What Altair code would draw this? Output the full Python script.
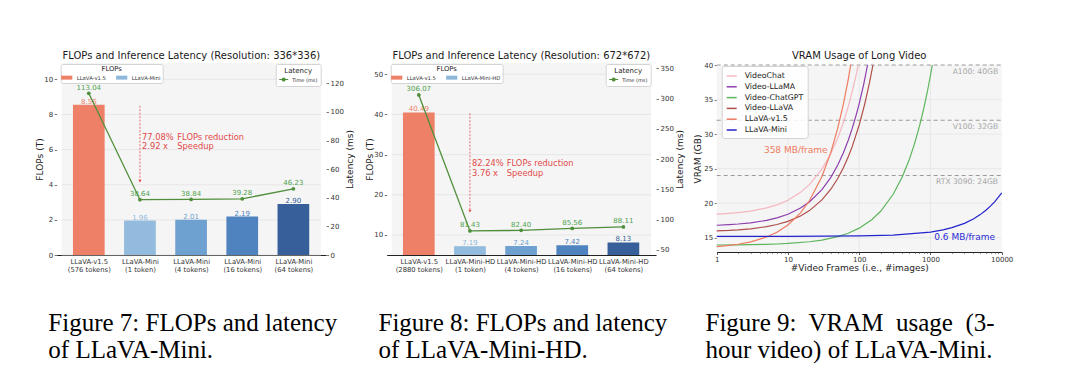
import altair as alt
import pandas as pd

W, H = 1080, 377
FONT = "DejaVu Sans"
SERIF = "Liberation Serif"

# ======================= DATA =======================
# ---- Figure 7 : FLOPs / latency at 336*336 ----
fig7_model = ["LLaVA-v1.5", "LLaVA-Mini", "LLaVA-Mini", "LLaVA-Mini", "LLaVA-Mini"]
fig7_tokens = ["(576 tokens)", "(1 token)", "(4 tokens)", "(16 tokens)", "(64 tokens)"]
fig7_flops = [8.56, 1.96, 2.01, 2.19, 2.90]
fig7_latency = [113.04, 38.64, 38.84, 39.28, 46.23]
fig7_legend = ["LLaVA-v1.5", "LLaVA-Mini"]
fig7_title = "FLOPs and Inference Latency (Resolution: 336*336)"
fig7_note = ["77.08%", "FLOPs reduction", "2.92 x", "Speedup"]
fig7_arrow = [8.5, 4.2]          # FLOPs values where the arrow starts / ends
fig7_note_x = [1.04, 1.73]       # category-index positions of the two note columns
fig7_note_y = [6.68, 6.13]       # FLOPs positions of the two note rows

# ---- Figure 8 : FLOPs / latency at 672*672 ----
fig8_model = ["LLaVA-v1.5", "LLaVA-Mini-HD", "LLaVA-Mini-HD", "LLaVA-Mini-HD", "LLaVA-Mini-HD"]
fig8_tokens = ["(2880 tokens)", "(1 token)", "(4 tokens)", "(16 tokens)", "(64 tokens)"]
fig8_flops = [40.49, 7.19, 7.24, 7.42, 8.13]
fig8_latency = [306.07, 81.43, 82.40, 85.56, 88.11]
fig8_legend = ["LLaVA-v1.5", "LLaVA-Mini-HD"]
fig8_title = "FLOPs and Inference Latency (Resolution: 672*672)"
fig8_note = ["82.24%", "FLOPs reduction", "3.76 x", "Speedup"]
fig8_arrow = [40.3, 15.9]
fig8_note_x = [1.04, 1.72]
fig8_note_y = [27.6, 25.2]

# ---- Figure 9 : VRAM usage of long video ----
vram_title = "VRAM Usage of Long Video"
vram_series = ["VideoChat", "Video-LLaMA", "Video-ChatGPT", "Video-LLaVA", "LLaVA-v1.5", "LLaVA-Mini"]

videochat_frames = [1, 1.5, 2, 3, 5, 7, 10, 15, 20, 30, 40, 50, 60, 70, 80, 90, 97]
videochat_vram = [18.40, 18.52, 18.63, 18.86, 19.31, 19.76, 20.43, 21.56, 22.68, 24.93,
                  27.18, 29.43, 31.68, 33.93, 36.18, 38.43, 40.00]

videollama_frames = [1, 1.5, 2, 3, 5, 7, 10, 15, 20, 30, 40, 50, 60, 70, 80, 90, 100, 115, 131]
videollama_vram = [16.80, 16.89, 16.98, 17.15, 17.51, 17.87, 18.40, 19.29, 20.18, 21.96,
                   23.74, 25.52, 27.30, 29.08, 30.86, 32.64, 34.42, 37.09, 40.00]

videochatgpt_frames = [1, 2, 3, 5, 7, 10, 20, 30, 50, 70, 100, 150, 200, 300, 400, 500,
                       600, 700, 800, 900, 1000, 1062]
videochatgpt_vram = [13.94, 13.97, 13.99, 14.04, 14.09, 14.17, 14.41, 14.66, 15.15, 15.64,
                     16.38, 17.60, 18.83, 21.29, 23.74, 26.20, 28.66, 31.11, 33.57, 36.02,
                     38.48, 40.00]

videollava_frames = [1, 1.5, 2, 3, 5, 7, 10, 15, 20, 30, 40, 50, 60, 70, 80, 100, 120, 140, 156]
videollava_vram = [15.98, 16.05, 16.13, 16.29, 16.60, 16.91, 17.37, 18.15, 18.92, 20.47,
                   22.02, 23.57, 25.12, 26.67, 28.22, 31.32, 34.42, 37.52, 40.00]

llava15_frames = [1, 1.5, 2, 3, 5, 7, 10, 15, 20, 30, 40, 50, 60, 70, 76]
llava15_vram = [13.70, 13.88, 14.05, 14.40, 15.10, 15.80, 16.85, 18.60, 20.35, 23.85,
                27.35, 30.85, 34.35, 37.85, 40.00]

llavamini_frames = [1, 10, 100, 300, 1000, 1500, 2000, 3000, 4000, 5000, 6000, 7000, 8000, 9000, 10000]
llavamini_vram = [15.19, 15.20, 15.25, 15.38, 15.82, 16.14, 16.45, 17.08, 17.71, 18.34,
                  18.97, 19.60, 20.23, 20.86, 21.49]

gpu_names = ["A100: 40GB", "V100: 32GB", "RTX 3090: 24GB"]
gpu_limits = [40, 32, 24]
rate_labels = ["358 MB/frame", "0.6 MB/frame"]
rate_frames = [4.6, 1132]
rate_vram = [27.7, 15.14]

# ---- captions ----
caption_lines = [
    "Figure 7: FLOPs and latency", "of LLaVA-Mini.",
    "Figure 8: FLOPs and latency", "of LLaVA-Mini-HD.",
    "Figure 9:\u00a0 VRAM\u00a0 usage\u00a0 (3-", "hour video) of LLaVA-Mini.",
]

# ======================= STYLE / LAYOUT =======================
BAR_COLORS = ["#EE8068", "#92BBDD", "#6EA1D0", "#4F83BF", "#375F99"]
FLOPS_LEGEND_COLORS = ["#EE8068", "#8DB8DC"]
LINE_GREEN = "#4F8E3A"
LABEL_GREEN = "#4FA24F"
RED = "#E24A4A"
BG = "#F5F5F5"
GRID = "#E3E3E3"
VRAM_COLORS = ["#F5B7C0", "#8E3FAF", "#5DB65D", "#B04E4A", "#EE7B5F", "#2323CC"]

P1_X = [56.7, 326.0]
P2_X = [386.7, 656.0]
P3_X = [716.7, 1001.7]
BAR_Y = [255.0, 63.0]
P3_Y = [252.0, 65.0]
CAP_X = [48.3, 378.5, 705.5]
CAP_Y = [331.0, 358.0]

RECT_PATH = "M-1.4,-0.5H1.4V0.5H-1.4Z"
LINE_DOT_PATH = "M-1,0H1M-0.32,0A0.32,0.32,0,1,1,0.32,0A0.32,0.32,0,1,1,-0.32,0Z"

COMMON_AXIS = dict(
    labelFont=FONT, labelFontSize=7, labelColor="#333333",
    titleFont=FONT, titleFontSize=9, titleFontWeight="normal", titleColor="#222222",
    grid=False, labelFlush=False, labelOverlap=False,
)


def indep(layer):
    return layer.resolve_axis(x="independent", y="independent")


def bar_panel(model, tokens, flops, latency, legend_names, title, note, arrow,
              note_x, note_y, x_px, flops_dom, flops_ticks, lat_dom, lat_ticks,
              flops_leg_xy, lat_leg_xy):
    n = len(flops)
    idx = list(range(n))
    x_dom = [-0.53, n - 1 + 0.54]
    xs = alt.Scale(domain=x_dom, range=x_px, nice=False, zero=False)
    fs = alt.Scale(domain=flops_dom, range=BAR_Y, nice=False, zero=False)
    ls = alt.Scale(domain=lat_dom, range=BAR_Y, nice=False, zero=False)

    df = pd.DataFrame({
        "idx": idx, "flops": flops, "latency": latency,
        "base": [flops_dom[0]] * n, "color": BAR_COLORS[:n],
        "flops_label": [f"{v:.2f}" for v in flops],
        "lat_label": [f"{v:.2f}" for v in latency],
    })

    label_expr = "[" + ",".join(f"['{m}','{t}']" for m, t in zip(model, tokens)) + "][datum.value]"

    x_axis = alt.Axis(orient="bottom", offset=BAR_Y[0] - H, values=idx, labelExpr=label_expr,
                      title=None, ticks=False, tickSize=0, domainColor="#222222", domainWidth=1,
                      labelPadding=3, labelLineHeight=8.3,
                      **{**COMMON_AXIS, "labelFontSize": 6.8})
    left_axis = alt.Axis(orient="left", offset=-x_px[0], values=flops_ticks, title="FLOPs (T)",
                         titleAngle=270, titleBaseline="bottom", titleX=-12.7,
                         domain=False, tickSize=2.5, tickColor="#555555", tickWidth=0.8,
                         labelPadding=1.5, **COMMON_AXIS)
    right_axis = alt.Axis(orient="right", offset=x_px[1] - W, values=lat_ticks, title="Latency (ms)",
                          titleAngle=270, titleBaseline="top", titleX=19.5,
                          domain=False, tickSize=2.5, tickColor="#555555", tickWidth=0.8,
                          labelPadding=1.5, **COMMON_AXIS)

    def fx(field, axis=None):
        return alt.X(f"{field}:Q", scale=xs, axis=axis)

    def fy(field, axis=None):
        return alt.Y(f"{field}:Q", scale=fs, axis=axis)

    def ly(field, axis=None):
        return alt.Y(f"{field}:Q", scale=ls, axis=axis)

    bg = alt.Chart(pd.DataFrame({"x0": [x_dom[0]], "x1": [x_dom[1]],
                                 "y0": [flops_dom[0]], "y1": [flops_dom[1]]})).mark_rect(
        color=BG).encode(x=fx("x0"), x2="x1:Q", y=fy("y0"), y2="y1:Q")

    grid = alt.Chart(pd.DataFrame({"t": flops_ticks, "x0": [x_dom[0]] * len(flops_ticks),
                                   "x1": [x_dom[1]] * len(flops_ticks)})).mark_rule(
        color=GRID, strokeWidth=0.7).encode(y=fy("t"), x=fx("x0"), x2="x1:Q")

    bars = alt.Chart(df).mark_bar(size=31.7).encode(
        x=fx("idx", x_axis), y=fy("flops", left_axis), y2="base:Q",
        color=alt.Color("color:N", scale=None))

    flabels = alt.Chart(df).mark_text(baseline="bottom", fontSize=7, font=FONT).encode(
        x=fx("idx"), y=fy("flops"), text="flops_label:N",
        color=alt.Color("color:N", scale=None))

    adf = pd.DataFrame({"x": [1], "y0": [arrow[0]], "y1": [arrow[1]]})
    arrow_rule = alt.Chart(adf).mark_rule(color=RED, strokeDash=[2, 1.5], strokeWidth=0.8).encode(
        x=fx("x"), y=fy("y0"), y2="y1:Q")
    arrow_head = alt.Chart(adf).mark_point(shape="triangle-down", filled=True, size=10,
                                           color=RED, opacity=1).encode(x=fx("x"), y=fy("y1"))

    ndf = pd.DataFrame({"x": [note_x[0], note_x[1], note_x[0], note_x[1]],
                        "y": [note_y[0], note_y[0], note_y[1], note_y[1]],
                        "text": note})
    notes = alt.Chart(ndf).mark_text(align="left", baseline="middle", fontSize=8.3,
                                     color=RED, font=FONT).encode(x=fx("x"), y=fy("y"), text="text:N")

    tdf = pd.DataFrame({"x": [sum(x_dom) / 2], "y": [flops_dom[1]], "text": [title]})
    ttl = alt.Chart(tdf).mark_text(baseline="middle", dy=-7.3, fontSize=10, color="#1a1a1a",
                                   font=FONT).encode(x=fx("x"), y=fy("y"), text="text:N")

    flops_leg = alt.Chart(pd.DataFrame({"series": legend_names})).mark_square(opacity=0).encode(
        color=alt.Color("series:N",
                        scale=alt.Scale(domain=legend_names, range=FLOPS_LEGEND_COLORS),
                        legend=alt.Legend(
                            title="FLOPs", orient="none", legendX=flops_leg_xy[0], legendY=flops_leg_xy[1],
                            direction="horizontal", columns=2, titleAnchor="middle",
                            titleFont=FONT, titleFontSize=6.8, titleFontWeight="normal", titleColor="#222222",
                            titlePadding=0.5, labelFont=FONT, labelFontSize=5.3, labelColor="#333333",
                            labelOffset=6, columnPadding=9, rowPadding=0,
                            symbolType=RECT_PATH, symbolSize=64, symbolOpacity=1, symbolStrokeWidth=0,
                            padding=2, fillColor="#ffffff", strokeColor="#d4d4d4", cornerRadius=2)))

    flops_group = indep(alt.layer(bg, grid, bars, flabels, arrow_rule, arrow_head, notes, ttl, flops_leg))

    line = alt.Chart(df).mark_line(color=LINE_GREEN, strokeWidth=1.3).encode(
        x=fx("idx"), y=ly("latency", right_axis))
    pts = alt.Chart(df).mark_circle(size=14, color=LINE_GREEN, opacity=1).encode(
        x=fx("idx"), y=ly("latency"))
    llabels = alt.Chart(df).mark_text(baseline="bottom", dy=-2.5, fontSize=7, color=LABEL_GREEN,
                                      font=FONT).encode(x=fx("idx"), y=ly("latency"), text="lat_label:N")
    lat_leg = alt.Chart(pd.DataFrame({"series": ["Time (ms)"]})).mark_point(filled=True, opacity=0).encode(
        color=alt.Color("series:N",
                        scale=alt.Scale(domain=["Time (ms)"], range=[LINE_GREEN]),
                        legend=alt.Legend(
                            title="Latency", orient="none", legendX=lat_leg_xy[0], legendY=lat_leg_xy[1],
                            titleAnchor="middle", titleFont=FONT, titleFontSize=7, titleFontWeight="normal",
                            titleColor="#222222", titlePadding=0.5, labelFont=FONT, labelFontSize=5,
                            labelColor="#333333", labelOffset=3,
                            symbolType=LINE_DOT_PATH, symbolSize=81, symbolOpacity=1,
                            symbolStrokeColor=LINE_GREEN, symbolFillColor=LINE_GREEN, symbolStrokeWidth=1.1,
                            padding=2.5, fillColor="#ffffff", strokeColor="#d4d4d4", cornerRadius=2)))
    lat_group = indep(alt.layer(line, pts, llabels, lat_leg))

    return indep(alt.layer(flops_group, lat_group).resolve_scale(y="independent", color="independent"))


panel1 = bar_panel(fig7_model, fig7_tokens, fig7_flops, fig7_latency, fig7_legend, fig7_title,
                   fig7_note, fig7_arrow, fig7_note_x, fig7_note_y, P1_X,
                   [0, 10.93], [0, 2, 4, 6, 8, 10], [0, 134.2], [0, 20, 40, 60, 80, 100, 120],
                   [60.7, 64], [275.7, 64])
panel2 = bar_panel(fig8_model, fig8_tokens, fig8_flops, fig8_latency, fig8_legend, fig8_title,
                   fig8_note, fig8_arrow, fig8_note_x, fig8_note_y, P2_X,
                   [5, 52.8], [10, 20, 30, 40, 50], [41.7, 358.8], [50, 100, 150, 200, 250, 300, 350],
                   [390.7, 64], [605.7, 64])

# ---------------- panel 3 ----------------
vram_frames = [videochat_frames, videollama_frames, videochatgpt_frames,
               videollava_frames, llava15_frames, llavamini_frames]
vram_values = [videochat_vram, videollama_vram, videochatgpt_vram,
               videollava_vram, llava15_vram, llavamini_vram]
rows = []
for s, fr, vv in zip(vram_series, vram_frames, vram_values):
    for f, v in zip(fr, vv):
        rows.append({"series": s, "frames": f, "vram": v})
vram_df = pd.DataFrame(rows)

X3_DOM = [1, 10000]
Y3_DOM = [12.93, 40]
xs3 = alt.Scale(type="log", domain=X3_DOM, range=P3_X, nice=False)
ys3 = alt.Scale(domain=Y3_DOM, range=P3_Y, nice=False, zero=False)
major = [1, 10, 100, 1000, 10000]
minor = [m * d for d in [1, 10, 100, 1000] for m in range(2, 10)]
y3_ticks = [15, 20, 25, 30, 35, 40]


def x3(field, axis=None):
    return alt.X(f"{field}:Q", scale=xs3, axis=axis)


def y3(field, axis=None):
    return alt.Y(f"{field}:Q", scale=ys3, axis=axis)


x3_axis = alt.Axis(orient="bottom", offset=P3_Y[0] - H, values=major, format="d",
                   title="#Video Frames (i.e., #images)", titleY=15.7, titleBaseline="middle",
                   tickSize=2.5, tickColor="#333333", tickWidth=0.8, labelPadding=1,
                   domainColor="#222222", domainWidth=1, **COMMON_AXIS)
x3_minor_axis = alt.Axis(orient="bottom", offset=P3_Y[0] - H, values=minor, labels=False,
                         tickSize=1.6, tickColor="#555555", tickWidth=0.6, domain=False,
                         title=None, grid=False)
y3_axis = alt.Axis(orient="left", offset=-P3_X[0], values=y3_ticks, title="VRAM (GB)",
                   titleAngle=270, titleBaseline="bottom", titleX=-14.4,
                   domain=False, tickSize=2.5, tickColor="#555555", tickWidth=0.8,
                   labelPadding=1.5, **COMMON_AXIS)

bg3 = alt.Chart(pd.DataFrame({"x0": [X3_DOM[0]], "x1": [X3_DOM[1]], "y0": [Y3_DOM[0]], "y1": [Y3_DOM[1]]})).mark_rect(
    color=BG).encode(x=x3("x0"), x2="x1:Q", y=y3("y0"), y2="y1:Q")
hgrid = [15, 20, 25, 30, 35]
grid3h = alt.Chart(pd.DataFrame({"t": hgrid, "x0": [X3_DOM[0]] * len(hgrid), "x1": [X3_DOM[1]] * len(hgrid)})).mark_rule(
    color=GRID, strokeWidth=0.7).encode(y=y3("t"), x=x3("x0"), x2="x1:Q")
vgrid = [10, 100, 1000]
grid3v = alt.Chart(pd.DataFrame({"v": vgrid, "y0": [Y3_DOM[0]] * len(vgrid), "y1": [Y3_DOM[1]] * len(vgrid)})).mark_rule(
    color=GRID, strokeWidth=0.7).encode(x=x3("v"), y=y3("y0"), y2="y1:Q")

gpu_df = pd.DataFrame({"y": gpu_limits, "name": gpu_names,
                       "x0": [X3_DOM[0]] * 3, "x1": [X3_DOM[1]] * 3, "xl": [8900] * 3})
gpu_lines = alt.Chart(gpu_df).mark_rule(color="#9A9A9A", strokeDash=[4, 3], strokeWidth=1).encode(
    y=y3("y"), x=x3("x0"), x2="x1:Q")
gpu_text = alt.Chart(gpu_df).mark_text(align="right", baseline="middle", dy=6.5, fontSize=7.6,
                                       color="#A6A6A6", font=FONT).encode(x=x3("xl"), y=y3("y"), text="name:N")

curves = alt.Chart(vram_df).mark_line(strokeWidth=1.2).encode(
    x=x3("frames", x3_axis), y=y3("vram", y3_axis),
    color=alt.Color("series:N", scale=alt.Scale(domain=vram_series, range=VRAM_COLORS),
                    legend=alt.Legend(
                        title=None, orient="none", legendX=721.7, legendY=66,
                        symbolType="stroke", symbolSize=100, symbolStrokeWidth=1.5,
                        labelFont=FONT, labelFontSize=7.8, labelColor="#222222", labelOffset=7,
                        rowPadding=0.8, padding=4, fillColor="rgba(255,255,255,0.85)",
                        strokeColor="#d4d4d4", cornerRadius=2.5)),
    order="frames:Q")

minor_layer = alt.Chart(pd.DataFrame({"m": minor})).mark_point(opacity=0).encode(x=x3("m", x3_minor_axis))

rate_df = pd.DataFrame({"x": rate_frames, "y": rate_vram, "text": rate_labels, "c": ["#EE7B5F", "#2B2BD6"]})
rate_text = alt.Chart(rate_df).mark_text(align="left", baseline="middle", fontSize=9, font=FONT).encode(
    x=x3("x"), y=y3("y"), text="text:N", color=alt.Color("c:N", scale=None))

ttl3 = alt.Chart(pd.DataFrame({"x": [100], "y": [Y3_DOM[1]], "text": [vram_title]})).mark_text(
    baseline="middle", dy=-9.3, fontSize=10, color="#1a1a1a", font=FONT).encode(
    x=x3("x"), y=y3("y"), text="text:N")

panel3 = indep(alt.layer(bg3, grid3h, grid3v, gpu_lines, gpu_text, curves, minor_layer, rate_text, ttl3))

# ---------------- captions ----------------
cap_df = pd.DataFrame({
    "text": caption_lines,
    "px": [CAP_X[0], CAP_X[0], CAP_X[1], CAP_X[1], CAP_X[2], CAP_X[2]],
    "py": [CAP_Y[0], CAP_Y[1]] * 3,
})
captions = alt.Chart(cap_df).mark_text(align="left", baseline="alphabetic", font=SERIF,
                                       fontSize=25, color="#000000").encode(
    x=alt.X("px:Q", scale=None), y=alt.Y("py:Q", scale=None), text="text:N")

chart = indep(alt.layer(panel1, panel2, panel3, captions).resolve_scale(
    x="independent", y="independent", color="independent"
)).properties(
    width=W, height=H, padding=0, background="white",
    autosize=alt.AutoSizeParams(type="none"),
).configure_view(strokeWidth=0)

chart.save("out.html", embed_options={"renderer": "svg", "actions": False})
